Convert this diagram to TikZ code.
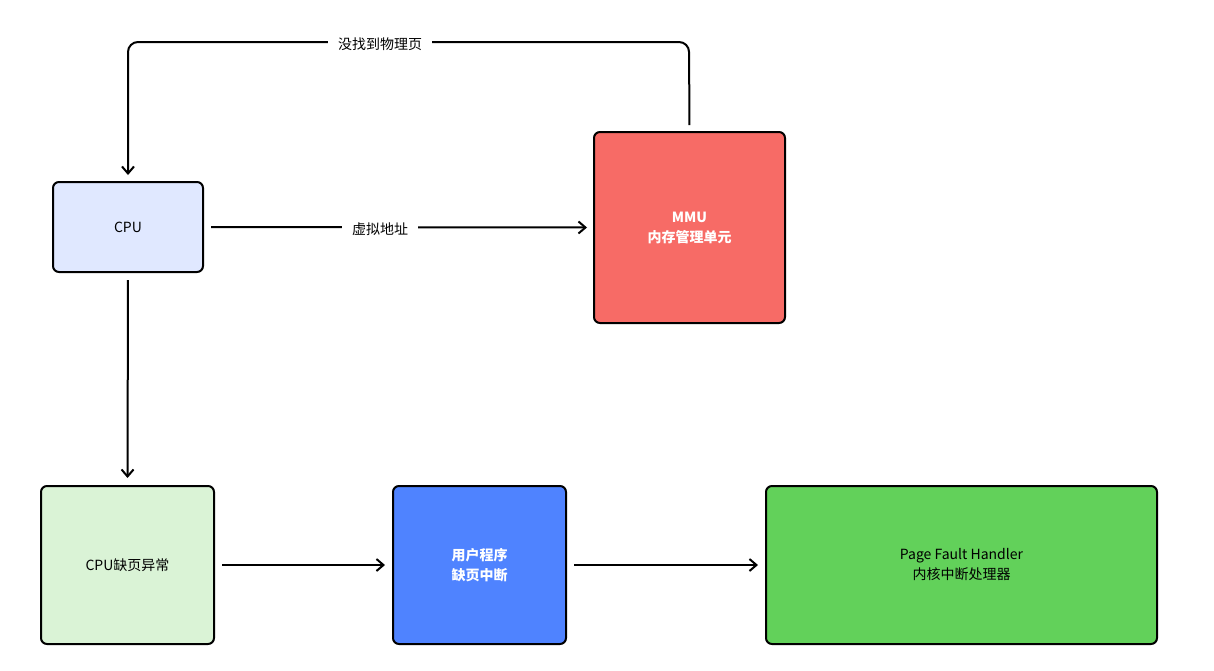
\documentclass[tikz,border=0pt]{standalone}
\usepackage{fontspec}
\setmainfont{Noto Sans CJK SC}
\usetikzlibrary{arrows.meta}
\definecolor{cpub}{HTML}{E0E8FF}
\definecolor{mmur}{HTML}{F76B66}
\definecolor{exg}{HTML}{DAF3D6}
\definecolor{usrb}{HTML}{4F83FF}
\definecolor{hdg}{HTML}{62D15A}
\begin{document}
\begin{tikzpicture}[x=1pt,y=-1pt,
  box/.style={draw=black,line width=2pt,rounded corners=6pt,align=center,font=\fontsize{14}{20}\selectfont,inner sep=0pt},
  wt/.style={text=white,font=\fontsize{14}{20}\selectfont\bfseries},
  arr/.style={line width=2pt,-{Straight Barb[length=7pt,width=12pt]}},
  lbl/.style={fill=white,font=\fontsize{14}{20}\selectfont,inner xsep=10pt}]
\useasboundingbox (0,0) rectangle (1214,670);
\node[box,fill=cpub,minimum width=150,minimum height=90] (cpu) at (128,227) {CPU};
\node[box,fill=mmur,minimum width=191,minimum height=191,wt] (mmu) at (689.5,227.5) {MMU\\内存管理单元};
\node[box,fill=exg,minimum width=173,minimum height=158] (ex) at (127.5,565) {CPU缺页异常};
\node[box,fill=usrb,minimum width=173,minimum height=158,wt] (usr) at (479.5,565) {用户程序\\缺页中断};
\node[box,fill=hdg,minimum width=391,minimum height=158] (hd) at (961.5,565) {Page Fault Handler\\内核中断处理器};
\coordinate (tr) at (689,42);
\coordinate (tl) at (128,42);
\draw[arr,shorten <=6pt,shorten >=6pt,rounded corners=10pt] (mmu.north) -- (tr) -- (tl) -- (cpu.north);
\node[lbl] (l1) at (380,44) {没找到物理页};
\draw[arr,shorten <=7pt,shorten >=6pt] (cpu.east) -- (mmu.west);
\node[lbl] (l2) at (380,229) {虚拟地址};
\draw[arr,shorten <=7pt,shorten >=7pt] (cpu.south) -- (ex.north);
\draw[arr,shorten <=7pt,shorten >=7pt] (ex.east) -- (usr.west);
\draw[arr,shorten <=7pt,shorten >=7pt] (usr.east) -- (hd.west);
\end{tikzpicture}
\end{document}
